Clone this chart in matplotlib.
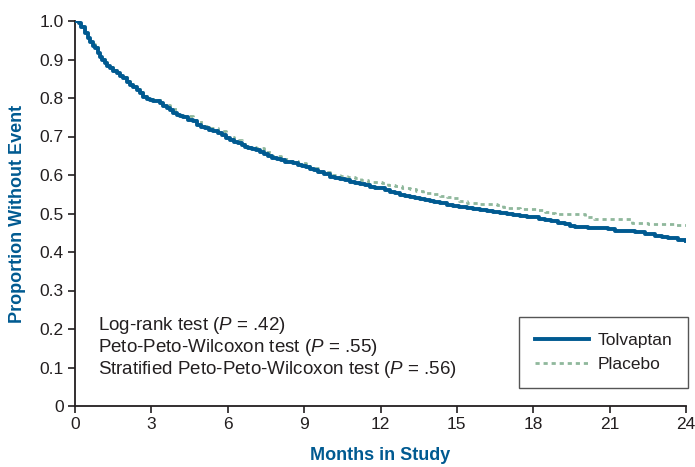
import matplotlib
matplotlib.use("Agg")
import matplotlib.pyplot as plt

# ---- data ----
tolv_t = [0, 0.15, 0.25, 0.39, 0.5, 0.59, 0.7, 0.79, 0.9, 0.98, 1.08, 1.18, 1.27, 1.37, 1.5,
          1.64, 1.77, 1.90, 2.03, 2.16, 2.29, 2.42, 2.55, 2.68, 2.82, 2.95, 3.08, 3.21, 3.34,
          3.47, 3.6, 3.73, 3.86, 4.0, 4.12, 4.25, 4.45, 4.65, 4.78, 4.94, 5.1, 5.27, 5.43,
          5.6, 5.76, 5.92, 6.09, 6.25, 6.41, 6.55, 6.68, 6.81, 6.94, 7.1, 7.27, 7.43, 7.59,
          7.75, 7.92, 8.08, 8.25, 8.42, 8.58, 8.74, 8.9, 9.07, 9.23, 9.4, 9.56, 9.8, 10.02,
          10.21, 10.41, 10.6, 10.8, 11.0, 11.19, 11.4, 11.59, 11.8, 11.98, 12.18, 12.37,
          12.57, 12.77, 12.96, 13.16, 13.36, 13.55, 13.75, 13.95, 14.1, 14.34, 14.6, 14.86,
          15.1, 15.39, 15.65, 15.91, 16.17, 16.43, 16.7, 16.96, 17.2, 17.49, 17.75, 18.0,
          18.23, 18.46, 18.7, 18.98, 19.25, 19.45, 19.64, 20.16, 20.95, 21.21, 22.0, 22.39,
          22.78, 23.05, 23.3, 23.7, 24.0]
tolv_s = [1.0, 0.995, 0.985, 0.968, 0.957, 0.946, 0.936, 0.929, 0.916, 0.907, 0.898, 0.890,
          0.883, 0.877, 0.870, 0.864, 0.857, 0.851, 0.842, 0.834, 0.828, 0.821, 0.812, 0.803,
          0.798, 0.795, 0.793, 0.791, 0.786, 0.780, 0.774, 0.769, 0.762, 0.756, 0.753, 0.750,
          0.744, 0.739, 0.730, 0.725, 0.721, 0.718, 0.715, 0.710, 0.704, 0.697, 0.691, 0.687,
          0.683, 0.678, 0.674, 0.670, 0.667, 0.664, 0.661, 0.655, 0.649, 0.645, 0.641, 0.638,
          0.635, 0.633, 0.631, 0.627, 0.623, 0.620, 0.616, 0.612, 0.609, 0.603, 0.596, 0.592,
          0.589, 0.586, 0.583, 0.579, 0.576, 0.573, 0.570, 0.567, 0.565, 0.561, 0.557, 0.552,
          0.548, 0.545, 0.542, 0.539, 0.537, 0.535, 0.533, 0.530, 0.526, 0.523, 0.520, 0.517,
          0.515, 0.512, 0.509, 0.507, 0.505, 0.502, 0.499, 0.497, 0.494, 0.492, 0.490, 0.487,
          0.483, 0.480, 0.476, 0.472, 0.468, 0.464, 0.463, 0.461, 0.455, 0.453, 0.446, 0.442,
          0.439, 0.436, 0.431, 0.428]

plac_t = [0, 0.15, 0.25, 0.39, 0.5, 0.59, 0.7, 0.79, 0.9, 0.98, 1.08, 1.18, 1.27, 1.37, 1.5,
          1.64, 1.77, 1.90, 2.03, 2.16, 2.29, 2.42, 2.55, 2.68, 2.82, 2.95, 3.21, 3.47, 3.73,
          4.0, 4.25, 4.65, 4.94, 5.27, 5.6, 5.92, 6.25, 6.55, 6.81, 7.1, 7.43, 7.75, 8.08,
          8.42, 8.74, 9.07, 9.23, 9.6, 10.02, 10.41, 10.7, 11.0, 11.25, 11.52, 11.8, 12.05,
          12.3, 12.57, 12.85, 13.16, 13.4, 13.68, 14.0, 14.27, 14.34, 14.6, 14.86, 15.1,
          15.39, 15.65, 15.9, 16.2, 16.56, 16.8, 16.96, 17.49, 18.0, 18.2, 18.46, 18.7,
          18.86, 19.3, 19.64, 20.03, 20.4, 21.47, 21.87, 22.5, 23.2, 23.6, 24.0]
plac_s = [1.0, 0.996, 0.987, 0.971, 0.960, 0.949, 0.939, 0.932, 0.919, 0.910, 0.901, 0.893,
          0.886, 0.880, 0.873, 0.867, 0.860, 0.854, 0.845, 0.837, 0.831, 0.824, 0.815, 0.806,
          0.801, 0.798, 0.794, 0.783, 0.772, 0.759, 0.753, 0.742, 0.728, 0.721, 0.713, 0.700,
          0.690, 0.681, 0.673, 0.670, 0.660, 0.649, 0.642, 0.636, 0.630, 0.623, 0.617, 0.609,
          0.600, 0.597, 0.594, 0.591, 0.587, 0.583, 0.581, 0.579, 0.575, 0.571, 0.567, 0.564,
          0.559, 0.554, 0.551, 0.548, 0.545, 0.542, 0.539, 0.533, 0.528, 0.526, 0.525, 0.524,
          0.522, 0.517, 0.513, 0.512, 0.512, 0.509, 0.505, 0.502, 0.500, 0.499, 0.498, 0.492,
          0.485, 0.485, 0.476, 0.472, 0.472, 0.471, 0.470]

series_names = ["Tolvaptan", "Placebo"]
x_ticks = [0, 3, 6, 9, 12, 15, 18, 21, 24]
y_ticks = [0, 0.1, 0.2, 0.3, 0.4, 0.5, 0.6, 0.7, 0.8, 0.9, 1.0]
y_tick_labels = ["0", "0.1", "0.2", "0.3", "0.4", "0.5", "0.6", "0.7", "0.8", "0.9", "1.0"]
tests = [("Log-rank test", ".42"),
         ("Peto-Peto-Wilcoxon test", ".55"),
         ("Stratified Peto-Peto-Wilcoxon test", ".56")]

plt.rcParams["font.family"] = ["Liberation Sans", "DejaVu Sans"]
plt.rcParams["mathtext.fontset"] = "custom"
plt.rcParams["mathtext.rm"] = "Liberation Sans"
plt.rcParams["mathtext.it"] = "Liberation Sans:italic"
plt.rcParams["mathtext.bf"] = "Liberation Sans:bold"

BLUE = "#005a91"
GREEN = "#8fb89c"
TXT = "#231f20"

fig = plt.figure(figsize=(6.95, 4.67), dpi=100)
ax = fig.add_axes([75 / 695, 61 / 467, 611 / 695, 385 / 467])

ax.plot(plac_t, plac_s, drawstyle="steps-post", color=GREEN, lw=2.0,
        linestyle=(0, (1.5, 1.4)), label=series_names[1], zorder=2)
ax.plot(tolv_t, tolv_s, drawstyle="steps-post", color=BLUE, lw=2.8,
        label=series_names[0], zorder=3)

ax.set_xlim(0, 24)
ax.set_ylim(0, 1.0)
ax.set_xticks(x_ticks)
ax.set_yticks(y_ticks)
ax.set_yticklabels(y_tick_labels)
ax.tick_params(direction="out", length=5, width=1.2, labelsize=12.5, colors=TXT, pad=3)
for s in ["top", "right"]:
    ax.spines[s].set_visible(False)
for s in ["left", "bottom"]:
    ax.spines[s].set_linewidth(1.3)
    ax.spines[s].set_color(TXT)

ax.set_ylabel("Proportion Without Event", color=BLUE, fontsize=13, fontweight="bold", labelpad=10)
ax.set_xlabel("Months in Study", color=BLUE, fontsize=13, fontweight="bold", labelpad=11)

ys = [0.208, 0.152, 0.096]
for (name, p), y in zip(tests, ys):
    ax.text(0.9, y, name + r" ($\it{P}$ = " + p + ")", fontsize=13.5,
            color=TXT, va="center", ha="left")

handles, labels = ax.get_legend_handles_labels()
order = [1, 0]
leg = ax.legend([handles[i] for i in order], [labels[i] for i in order],
                loc="lower right", bbox_to_anchor=(1.003, 0.047), borderaxespad=0,
                fancybox=False, edgecolor="#555555", fontsize=12.5, handlelength=3.1,
                borderpad=0.9, labelspacing=0.55, handletextpad=0.5, framealpha=1)
leg.get_frame().set_linewidth(1.0)
for t in leg.get_texts():
    t.set_color(TXT)

fig.savefig("out.png", dpi=100)
